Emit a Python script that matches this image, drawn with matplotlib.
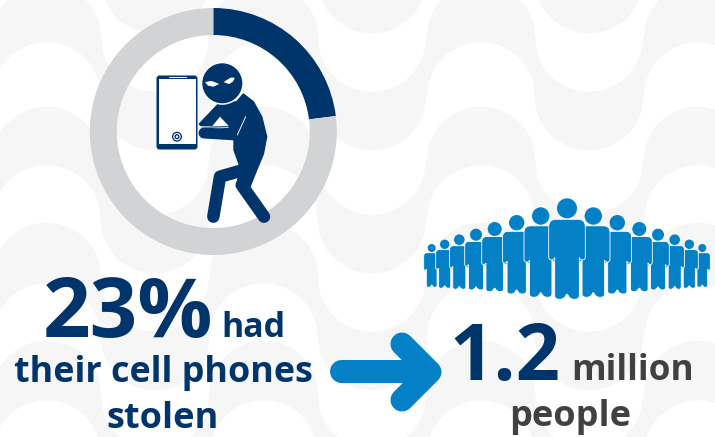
import numpy as np
import matplotlib
matplotlib.use('Agg')
import matplotlib.pyplot as plt
from matplotlib.path import Path
from matplotlib.patches import Circle, PathPatch, Polygon, FancyBboxPatch

# ring shares
stolen_share = [23, 77]

# crowd, from the middle figure out to the edge
person_offset = [0, 26.3, 50.3, 72.3, 91, 107.7, 122.3, 135.3]
person_head_y = [208.3, 216, 222.7, 229, 234.7, 239.7, 244.3, 248]
person_head_r = [10, 8.7, 7.7, 7, 6, 5.3, 4.7, 4]
person_foot_y = [299.3, 297.3, 294, 291.7, 290, 289.3, 288.3, 287.3]
person_half_w = [18.3, 16.7, 14.3, 13, 11.3, 9.7, 9, 8]

NAVY = '#00356b'
BLUE = '#0480c6'
RING = '#d1d3d4'
WAVE = '#f6f6f6'
DARK = '#414042'
FONT = 'Open Sans'
PX = 0.72  # one pixel in points at dpi 100

fig = plt.figure(figsize=(7.15, 4.37), dpi=100, facecolor='white')
ax = fig.add_axes([0, 0, 1, 1], zorder=0)
ax.set_xlim(0, 715)
ax.set_ylim(437, 0)
ax.axis('off')


# background waves: alternating columns of arches and hanging scallops
def wave_band(cx, y1, y2, sign):
    u = np.linspace(-1, 1, 60)
    bend = 54 * (1 - np.sqrt(1 - u ** 2))
    xs = cx + 54.25 * u
    top = np.column_stack([xs, y1 + sign * bend])
    bottom = np.column_stack([xs, y2 + sign * bend])[::-1]
    ax.add_patch(Polygon(np.vstack([top, bottom]), fc=WAVE, ec=WAVE, lw=0.3, zorder=1))


arch_bands = [(-16, 42), (107, 165), (223, 283), (341, 400)]
scallop_bands = [(-26, 33), (92, 150), (215, 273), (332, 390), (450, 510)]
for cx in [46.7, 263.7, 481, 698]:
    for y1, y2 in arch_bands:
        wave_band(cx, y1, y2, 1)
for cx in [155, 372, 589]:
    for y1, y2 in scallop_bands:
        wave_band(cx, y1, y2, -1)

# ring
ring_ax = fig.add_axes([(213.3 - 123.5) / 715, 1 - (131.5 + 123.5) / 437, 247 / 715, 247 / 437], zorder=1)
ring_ax.pie(stolen_share, colors=[NAVY, RING], startangle=90, counterclock=False,
            radius=1, wedgeprops={'width': 27 / 123.5, 'linewidth': 0})
ring_ax.set_xlim(-1, 1)
ring_ax.set_ylim(-1, 1)
ring_ax.patch.set_alpha(0)

top = fig.add_axes([0, 0, 1, 1], zorder=2)
top.set_xlim(0, 715)
top.set_ylim(437, 0)
top.axis('off')
top.patch.set_alpha(0)


def ic(pts):
    # thief icon was laid out on a 3x grid
    return [(x / 3 + 80, y / 3) for x, y in pts]


def limb(pts, width, color=NAVY):
    p = np.array(ic(pts))
    top.plot(p[:, 0], p[:, 1], color=color, lw=width * PX, solid_capstyle='round',
             solid_joinstyle='round', zorder=5)


# phone
top.add_patch(FancyBboxPatch((158.5, 77.5), 37, 70, boxstyle='round,pad=2,rounding_size=3',
                             fc=NAVY, ec='none', zorder=4))
top.add_patch(Polygon(ic([(237, 238), (347, 238), (347, 433), (237, 433)]), fc='white', ec='none', zorder=4))
limb([(266, 232), (317, 232)], 1.0, 'white')
top.add_patch(Circle((177, 136.7), 5, fc=NAVY, ec='none', zorder=6))
top.add_patch(Circle((177, 136.7), 3.7, fc='white', ec='none', zorder=6))
top.add_patch(Circle((177, 136.7), 2.6, fc=NAVY, ec='none', zorder=6))
top.add_patch(Circle((177, 136.7), 1.2, fc='white', ec='none', zorder=6))

# thief
top.add_patch(Polygon(ic([(490, 282), (520, 305), (545, 350), (560, 410), (550, 462), (530, 510),
                          (508, 565), (470, 560), (480, 500), (462, 450), (462, 415), (440, 385),
                          (365, 380), (358, 372), (415, 312), (470, 305)]),
                      fc=NAVY, ec=NAVY, lw=1, joinstyle='round', zorder=5))
limb([(372, 399), (470, 405)], 11)
limb([(490, 510), (420, 530), (400, 650)], 12.5)
limb([(485, 555), (552, 650)], 12.5)
top.add_patch(Polygon(ic([(397, 378), (420, 350), (446, 378)]), fc='white', ec='none', zorder=6))
limb([(497, 350), (472, 405)], 0.9, 'white')
limb([(360, 380), (445, 382)], 0.9, 'white')
top.add_patch(Circle((222.3, 83.3), 21.5, fc='white', ec='none', zorder=5))
top.add_patch(Circle((222.3, 83.3), 20, fc=NAVY, ec='none', zorder=6))
top.add_patch(Polygon(ic([(377, 247), (395, 244), (415, 252), (400, 259), (385, 256)]),
                      fc='white', ec='white', lw=0.5, zorder=7))
top.add_patch(Polygon(ic([(463, 234), (452, 234), (433, 246), (447, 251), (458, 244)]),
                      fc='white', ec='white', lw=0.5, zorder=7))


# crowd
def person(cx, head_y, r, foot_y, half_w, z):
    sx = half_w / 55
    sy = (foot_y - head_y) / 273
    verts = [(-55, 55), (-55, 33), (-33, 33), (33, 33), (55, 33), (55, 55),
             (55, 145), (55, 155), (47, 155), (39, 155), (37, 148),
             (37, 262), (37, 273), (22, 273), (7, 273), (2, 258), (-2, 258),
             (-7, 273), (-22, 273), (-37, 273), (-37, 262), (-37, 148),
             (-39, 155), (-47, 155), (-55, 155), (-55, 145), (-55, 55)]
    codes = [Path.MOVETO, Path.CURVE3, Path.CURVE3, Path.LINETO, Path.CURVE3, Path.CURVE3,
             Path.LINETO, Path.CURVE3, Path.CURVE3, Path.CURVE3, Path.CURVE3,
             Path.LINETO, Path.CURVE3, Path.CURVE3, Path.CURVE3, Path.CURVE3, Path.LINETO,
             Path.CURVE3, Path.CURVE3, Path.CURVE3, Path.CURVE3, Path.LINETO,
             Path.CURVE3, Path.CURVE3, Path.CURVE3, Path.CURVE3, Path.LINETO]
    pts = [(cx + x * sx, head_y + y * sy) for x, y in verts]
    top.add_patch(PathPatch(Path(pts, codes), fc=BLUE, ec='white', lw=0.6, zorder=z))
    top.add_patch(Circle((cx, head_y), r, fc=BLUE, ec='none', zorder=z))


crowd_x = 567
for i in range(len(person_offset) - 1, -1, -1):
    z = 20 - i
    person(crowd_x + person_offset[i], person_head_y[i], person_head_r[i], person_foot_y[i], person_half_w[i], z)
    if i > 0:
        person(crowd_x - person_offset[i], person_head_y[i], person_head_r[i], person_foot_y[i], person_half_w[i], z)

# arrow
top.plot([341, 428], [371, 371], color=BLUE, lw=23 * PX, solid_capstyle='round', zorder=5)
top.plot([402, 430, 402], [344, 372, 400], color=BLUE, lw=23 * PX, solid_capstyle='round',
         solid_joinstyle='round', zorder=5)


def label(x, y, s, size, color, ha='left'):
    top.text(x, y, s, fontsize=size, color=color, ha=ha, va='baseline', family=FONT,
             fontweight='bold', zorder=30)


label(43, 337, '23%', 60, NAVY)
label(221, 337, 'had', 24.5, NAVY)
label(163, 382, 'their cell phones', 25.8, NAVY, 'center')
label(163, 428, 'stolen', 26, NAVY, 'center')
label(449, 380, '1.2', 56, NAVY)
label(571, 380, 'million', 25.4, DARK)
label(570, 426, 'people', 26, DARK, 'center')

fig.savefig('out.png', dpi=100)
